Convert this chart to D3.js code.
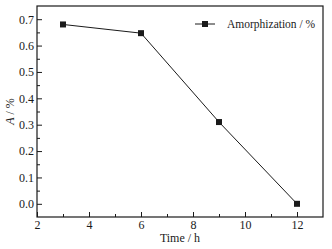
<!DOCTYPE html>
<html>
<head>
<meta charset="utf-8">
<script src="https://cdn.jsdelivr.net/npm/d3@7"></script>
<style>
  body { margin: 0; background: #fff; }
  svg { display: block; font-family: "Liberation Serif", "DejaVu Serif", serif; }
</style>
</head>
<body>
<svg id="chart" width="332" height="249"></svg>
<script>
const hours = [3, 6, 9, 12];
const amorphization = [0.68, 0.647, 0.31, 0.0];
const xTicks = [2, 4, 6, 8, 10, 12];
const yTicks = [0.0, 0.1, 0.2, 0.3, 0.4, 0.5, 0.6, 0.7];
const seriesName = "Amorphization / %";

const width = 332, height = 249;
const margin = {top: 6, right: 9, bottom: 32, left: 37};
const ink = "#1a1a1a";

const svg = d3.select("#chart");

const x = d3.scaleLinear()
  .domain([2, 13])
  .range([margin.left, width - margin.right]);

const y = d3.scaleLinear()
  .domain([-0.05, 0.75])
  .range([height - margin.bottom, margin.top]);

// minor ticks first, then majors with labels
const xMinor = d3.range(3, 13, 2);
const yMinor = d3.range(0.05, 0.75, 0.1);

svg.append("g")
  .attr("transform", `translate(0,${height - margin.bottom})`)
  .call(d3.axisTop(x).tickValues(xMinor).tickSize(3).tickFormat(""))
  .call(g => g.select(".domain").remove())
  .call(g => g.selectAll("line").attr("stroke", ink));

svg.append("g")
  .attr("transform", `translate(${margin.left},0)`)
  .call(d3.axisRight(y).tickValues(yMinor).tickSize(3).tickFormat(""))
  .call(g => g.select(".domain").remove())
  .call(g => g.selectAll("line").attr("stroke", ink));

const xAxis = svg.append("g")
  .attr("transform", `translate(0,${height - margin.bottom})`)
  .call(d3.axisTop(x).tickValues(xTicks).tickSize(5).tickFormat(d3.format("d")))
  .call(g => g.select(".domain").remove());
xAxis.selectAll("line").attr("stroke", ink);
xAxis.selectAll("text")
  .attr("y", 3).attr("dy", "0.71em")
  .attr("fill", ink)
  .style("font-size", "12px")
  .style("font-family", "Liberation Serif, serif");

const yAxis = svg.append("g")
  .attr("transform", `translate(${margin.left},0)`)
  .call(d3.axisRight(y).tickValues(yTicks).tickSize(5).tickFormat(d3.format(".1f")))
  .call(g => g.select(".domain").remove());
yAxis.selectAll("line").attr("stroke", ink);
yAxis.selectAll("text")
  .attr("x", -3)
  .attr("text-anchor", "end")
  .attr("fill", ink)
  .style("font-size", "12px")
  .style("font-family", "Liberation Serif, serif");

// frame
svg.append("rect")
  .attr("x", margin.left)
  .attr("y", margin.top)
  .attr("width", width - margin.left - margin.right)
  .attr("height", height - margin.top - margin.bottom)
  .attr("fill", "none")
  .attr("stroke", ink)
  .attr("stroke-width", 1.2);

const pts = hours.map((h, i) => ({h, a: amorphization[i]}));

svg.append("path")
  .datum(pts)
  .attr("fill", "none")
  .attr("stroke", ink)
  .attr("stroke-width", 1)
  .attr("d", d3.line().x(d => x(d.h)).y(d => y(d.a)));

const ms = 6;
svg.selectAll(".pt")
  .data(pts)
  .join("rect")
  .attr("class", "pt")
  .attr("x", d => x(d.h) - ms / 2)
  .attr("y", d => y(d.a) - ms / 2)
  .attr("width", ms)
  .attr("height", ms)
  .attr("fill", ink);

// legend
const lg = svg.append("g").attr("transform", "translate(195,24)");
lg.append("line").attr("x1", 0).attr("x2", 20).attr("stroke", ink).attr("stroke-width", 1);
lg.append("rect").attr("x", 7).attr("y", -3).attr("width", 6).attr("height", 6).attr("fill", ink);
lg.append("text")
  .attr("x", 32).attr("dy", "0.35em")
  .attr("fill", ink)
  .style("font-size", "11.5px")
  .text(seriesName);

// axis titles
svg.append("text")
  .attr("x", (margin.left + width - margin.right) / 2)
  .attr("y", 242)
  .attr("text-anchor", "middle")
  .attr("fill", ink)
  .style("font-size", "12px")
  .text("Time / h");

const yl = svg.append("text")
  .attr("transform", `translate(14,${(margin.top + height - margin.bottom) / 2}) rotate(-90)`)
  .attr("text-anchor", "middle")
  .attr("fill", ink)
  .style("font-size", "12px");
yl.append("tspan").style("font-style", "italic").text("A");
yl.append("tspan").text(" / %");
</script>
</body>
</html>
